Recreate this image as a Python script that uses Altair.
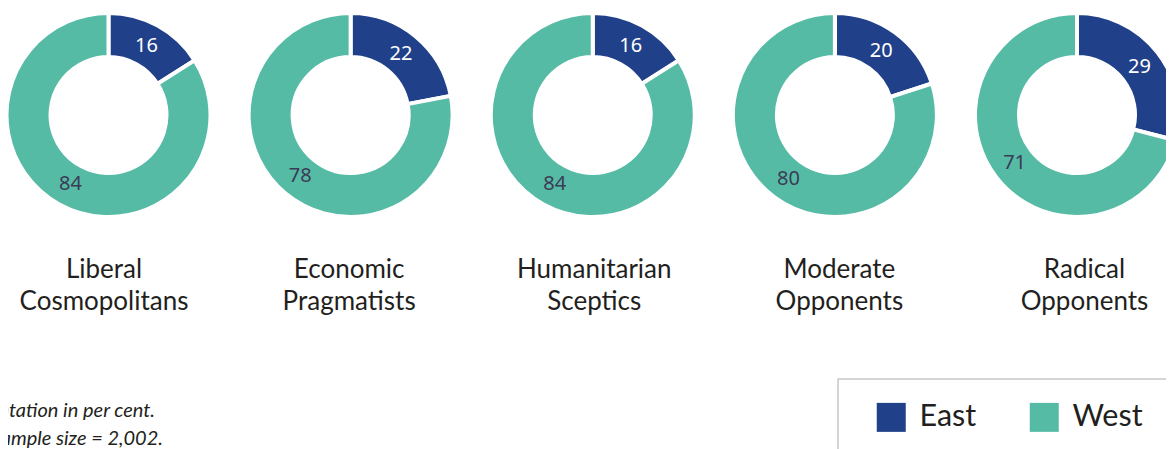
import altair as alt
import pandas as pd

# ---- data ----
categories = ["Liberal Cosmopolitans", "Economic Pragmatists", "Humanitarian Sceptics",
              "Moderate Opponents", "Radical Opponents"]
east = [16, 22, 16, 20, 29]
west = [84, 78, 84, 80, 71]
series = ["East", "West"]
series_colors = ["#21408a", "#56bba5"]
footnote_lines = ["Note: Representation in per cent.", "Sample size = 2,002."]

rows = []
for c, e, w in zip(categories, east, west):
    rows.append({"group": c, "region": "East", "share": e})
    rows.append({"group": c, "region": "West", "share": w})
df = pd.DataFrame(rows)
cat_df = pd.DataFrame({"group": categories})

# ---- layout ----
W, H = 1158, 441
CY = 107          # donut centre (chart px)
LABEL_Y = 270     # first line baseline of category label
TEXT_FONT = "Lato"
NUM_FONT = "Noto Sans"

xscale = alt.Scale(type="point", domain=categories, range=[100.5, 1069], padding=0)
label_xscale = alt.Scale(type="point", domain=categories, range=[96, 1076.5], padding=0)
theta_scale = alt.Scale(domain=[0, 100], range=[0, 6.283185307179586])
x_enc = alt.X("group:N", scale=xscale, axis=None)

base = alt.Chart(df).transform_stack(
    stack="share", groupby=["group"], as_=["s0", "s1"],
    sort=[alt.SortField("region", order="ascending")]
).transform_calculate(mid="(datum.s0 + datum.s1) / 2")

arcs = base.mark_arc(innerRadius=58, outerRadius=102, stroke="white", strokeWidth=4).encode(
    x=x_enc,
    y=alt.value(CY),
    theta=alt.Theta("s0:Q", scale=theta_scale, stack=False),
    theta2="s1:Q",
    color=alt.Color(
        "region:N",
        scale=alt.Scale(domain=series, range=series_colors),
        legend=alt.Legend(
            orient="none", legendX=868, legendY=394, direction="horizontal",
            title=None, symbolType="square", symbolSize=841, symbolStrokeWidth=0,
            labelFont=TEXT_FONT, labelFontSize=30.5, labelColor="#231f20",
            labelOffset=13, columnPadding=52, padding=0,
        ),
    ),
)

values = base.mark_text(radius=79, font=NUM_FONT, fontSize=20).encode(
    x=x_enc,
    y=alt.value(CY),
    theta=alt.Theta("mid:Q", scale=theta_scale, stack=False),
    text=alt.Text("share:Q"),
    color=alt.condition(alt.datum.region == "East", alt.value("white"), alt.value("#3b3b55")),
)

donuts = alt.layer(arcs, values)

cat_labels = alt.Chart(cat_df).transform_calculate(
    lines="split(datum.group, ' ')"
).mark_text(font=TEXT_FONT, fontSize=26, lineHeight=32, baseline="alphabetic",
            align="center", color="#231f20").encode(
    x=alt.X("group:N", scale=label_xscale, axis=None),
    y=alt.value(LABEL_Y),
    text="lines:N",
)

frame = alt.Chart(pd.DataFrame({"k": [0]})).mark_rect(
    fill=None, stroke="#c8c8c8", strokeWidth=1.5
).encode(x=alt.value(830), x2=alt.value(1220), y=alt.value(371), y2=alt.value(480))

note1 = alt.Chart(pd.DataFrame({"t": [footnote_lines[0]]})).mark_text(
    font=TEXT_FONT, fontSize=20, fontStyle="italic", align="right", baseline="alphabetic",
    color="#231f20").encode(x=alt.value(147), y=alt.value(409), text="t:N")
note2 = alt.Chart(pd.DataFrame({"t": [footnote_lines[1]]})).mark_text(
    font=TEXT_FONT, fontSize=20, fontStyle="italic", align="right", baseline="alphabetic",
    color="#231f20").encode(x=alt.value(155), y=alt.value(437), text="t:N")

chart = alt.layer(donuts, cat_labels, frame, note1, note2).resolve_scale(
    x="independent"
).properties(
    width=W, height=H, padding=0, autosize=alt.AutoSizeParams(type="none")
).configure_view(stroke=None)

chart.save("out.html", embed_options={"renderer": "svg", "actions": False})
